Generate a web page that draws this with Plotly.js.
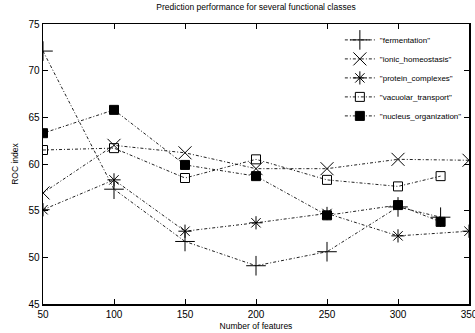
<!DOCTYPE html>
<html>
<head>
<meta charset="utf-8">
<script src="https://cdn.plot.ly/plotly-3.0.1.min.js"></script>
<style>html,body{margin:0;padding:0;background:#fff}#chart{width:475px;height:333px}</style>
</head>
<body>
<div id="chart"></div>
<script>
var features = [50, 100, 150, 200, 250, 300, 330, 350];
var fermentationX = [50, 100, 150, 200, 250, 300, 330];
var fermentation = [72.1, 57.3, 51.7, 49.1, 50.6, 55.4, 54.3];
var ionicX = [50, 100, 150, 200, 250, 300, 350];
var ionic = [56.9, 62.0, 61.2, 59.5, 59.5, 60.5, 60.4];
var proteinX = [50, 100, 150, 200, 250, 300, 350];
var protein = [55.1, 58.3, 52.8, 53.7, 54.7, 52.3, 52.8];
var vacuolarX = [50, 100, 150, 200, 250, 300, 330];
var vacuolar = [61.5, 61.7, 58.5, 60.5, 58.3, 57.6, 58.7];
var nucleusX = [50, 100, 150, 200, 250, 300, 330];
var nucleus = [63.3, 65.8, 59.9, 58.7, 54.5, 55.6, 53.8];
var names = ['"fermentation"', '"ionic_homeostasis"', '"protein_complexes"', '"vacuolar_transport"', '"nucleus_organization"'];
var xTicks = [50, 100, 150, 200, 250, 300, 350];
var yTicks = [45, 50, 55, 60, 65, 70, 75];

var xs = [fermentationX, ionicX, proteinX, vacuolarX, nucleusX];
var ys = [fermentation, ionic, protein, vacuolar, nucleus];
var symbols = ['cross-thin-open', 'x-thin-open', 'asterisk-open', 'square-open', 'square'];
var sizes = [14, 13, 11, 9, 9];

var traces = ys.map(function (y, i) {
  return {
    x: xs[i], y: y, name: names[i], type: 'scatter', mode: 'lines+markers',
    line: {color: '#222', width: 1, dash: '3px,2px,1px,2px'},
    marker: {symbol: symbols[i], size: sizes[i], color: '#000', line: {color: '#000', width: 1}}
  };
});

var font = {family: '"Liberation Sans", Arial, sans-serif', color: '#000'};
var layout = {
  width: 475, height: 333,
  margin: {l: 43, r: 6, t: 24, b: 29},
  paper_bgcolor: '#fff', plot_bgcolor: '#fff',
  font: {family: font.family, color: '#000', size: 9},
  title: {text: 'Prediction performance for several functional classes', font: {family: font.family, size: 8.5, color: '#000'}, x: 0.539, xanchor: 'center', y: 0.978, yanchor: 'middle'},
  showlegend: true,
  legend: {x: 0.995, xanchor: 'right', y: 0.995, yanchor: 'top', bgcolor: 'rgba(0,0,0,0)', font: {family: font.family, size: 8, color: '#000'}},
  xaxis: {
    range: [50, 350], tickvals: xTicks, ticktext: xTicks.map(String), ticks: 'inside', ticklen: 5, tickcolor: '#000',
    showline: true, linecolor: '#000', linewidth: 1.5, mirror: 'ticks', showgrid: false, zeroline: false,
    ticklabeloverflow: 'allow',
    tickfont: {family: font.family, size: 10, color: '#000'},
    title: {text: 'Number of features', font: {family: font.family, size: 8.5, color: '#000'}, standoff: 4}
  },
  yaxis: {
    range: [45, 75], tickvals: yTicks, ticktext: yTicks.map(String), ticks: 'inside', ticklen: 5, tickcolor: '#000',
    showline: true, linecolor: '#000', linewidth: 1.5, mirror: 'ticks', showgrid: false, zeroline: false,
    tickfont: {family: font.family, size: 10, color: '#000'},
    title: {text: 'ROC index', font: {family: font.family, size: 8.5, color: '#000'}, standoff: 8}
  }
};
Plotly.newPlot('chart', traces, layout, {displayModeBar: false, staticPlot: true});
</script>
</body>
</html>
